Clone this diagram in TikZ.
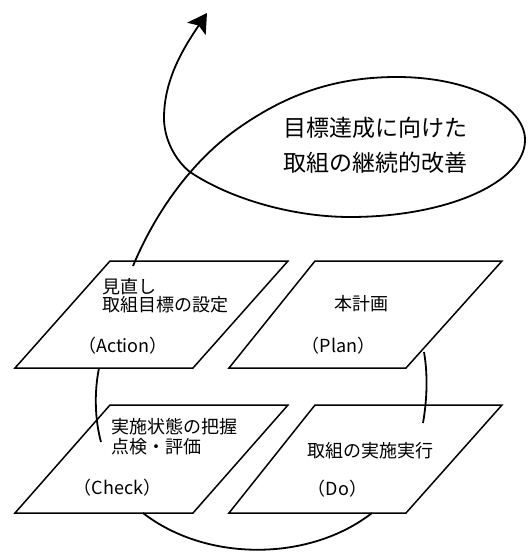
\documentclass[tikz,border=0pt]{standalone}
\usepackage{fontspec}
\newfontfamily\jp{Noto Sans CJK JP}
\usetikzlibrary{arrows.meta}
\begin{document}
\begin{tikzpicture}[x=1pt,y=-1pt,
  box/.style={draw=black, fill=white, line width=1.5pt, line join=miter},
  curve/.style={draw=black, line width=1.8pt},
  txt/.style={inner sep=0pt, font=\jp\fontsize{18}{18}\selectfont, text height=15.8pt, text depth=2.2pt},
  bigtxt/.style={inner sep=0pt, font=\jp\fontsize{23}{23}\selectfont, text height=20.2pt, text depth=2.8pt}]
\useasboundingbox (0,0) rectangle (528,552);
% parallelograms
\draw[box] (110,261) -- (288,261) -- (193,368) -- (15,368) -- cycle;
\draw[box] (315,261) -- (502,261) -- (406,368) -- (229,368) -- cycle;
\draw[box] (110,405) -- (288,405) -- (193,513) -- (15,513) -- cycle;
\draw[box] (315,405) -- (502,405) -- (406,513) -- (229,513) -- cycle;
% named coordinates
\coordinate (actTop) at (133,266);
\coordinate (actBot) at (99,368);
\coordinate (chkIn) at (101,442);
\coordinate (planBot) at (424,352);
\coordinate (doIn) at (423,423);
\coordinate (chkBot) at (143,513);
\coordinate (doBot) at (372,513);
\coordinate (tip) at (207,13);
% cycle arcs
\draw[curve] (actBot) .. controls (94,393) and (95,420) .. (chkIn);
\draw[curve] (planBot) .. controls (428,375) and (427,400) .. (doIn);
\draw[curve] (chkBot) .. controls (206,562) and (309,562) .. (doBot);
% loop with arrow
\draw[curve, -{Stealth[length=19pt,width=22pt,inset=4pt]}]
  (actTop) .. controls (155,213) and (192,160) .. (240,127)
  .. controls (289,93) and (337,77) .. (397,77)
  .. controls (468,77) and (525,105) .. (525,140)
  .. controls (525,182.5) and (446.6,217) .. (350,217)
  .. controls (295,217) and (232,200) .. (190,172)
  .. controls (176,161) and (164,140) .. (164,118)
  .. controls (164,78) and (185,46) .. (tip);
% texts
\node[bigtxt] (g1) at (375,128) {目標達成に向けた};
\node[bigtxt] (g2) at (375.5,163) {取組の継続的改善};
\node[txt, anchor=west] (a1) at (102,287) {見直し};
\node[txt, anchor=west] (a2) at (102,305) {取組目標の設定};
\node[txt] (a3) at (123,346) {（Action）};
\node[txt] (p1) at (361.5,304) {本計画};
\node[txt] (p2) at (338.5,346) {（Plan）};
\node[txt, anchor=west] (c1) at (111,427) {実施状態の把握};
\node[txt, anchor=west] (c2) at (111,447) {点検・評価};
\node[txt] (c3) at (117.5,488) {（Check）};
\node[txt] (d1) at (370,451) {取組の実施実行};
\node[txt] (d2) at (337.5,489) {（Do）};
\end{tikzpicture}
\end{document}
